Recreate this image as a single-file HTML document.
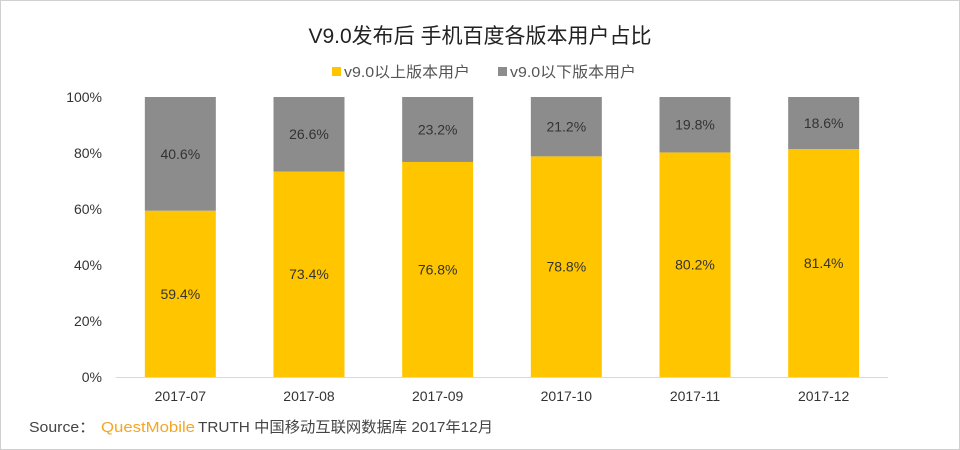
<!DOCTYPE html>
<html><head><meta charset="utf-8"><style>
body{margin:0;background:#fff;}
#wrap{position:relative;width:958px;height:448px;border:1px solid #d0d0d0;background:#fff;overflow:hidden;}
svg text{font-family:"Liberation Sans","Noto Sans CJK SC",sans-serif;}
</style></head><body>
<div id="wrap">
<svg id="chart" width="958" height="448">
<text x="479" y="42" text-anchor="middle" font-size="21" fill="#222">V9.0发布后 手机百度各版本用户占比</text>
<g>
<rect x="331" y="66" width="9" height="9" fill="#FFC600"/>
<text x="343" y="76" font-size="15" fill="#555" textLength="126" lengthAdjust="spacingAndGlyphs">v9.0以上版本用户</text>
<rect x="497" y="66" width="9" height="9" fill="#8C8C8C"/>
<text x="509" y="76" font-size="15" fill="#555" textLength="126" lengthAdjust="spacingAndGlyphs">v9.0以下版本用户</text>
</g>
<g id="axes"></g>
<g id="bars"></g>
<g>
<text x="28" y="431" font-size="15" fill="#444" textLength="66" lengthAdjust="spacingAndGlyphs">Source：</text>
<text x="100" y="431" font-size="15" fill="#F5A623" textLength="94" lengthAdjust="spacingAndGlyphs">QuestMobile</text>
<text x="197" y="431" font-size="15" fill="#444" textLength="295" lengthAdjust="spacingAndGlyphs">TRUTH 中国移动互联网数据库 2017年12月</text>
</g>
</svg>
</div>
<script>
const categories=["2017-07","2017-08","2017-09","2017-10","2017-11","2017-12"];
const above=[59.4,73.4,76.8,78.8,80.2,81.4];
const below=[40.6,26.6,23.2,21.2,19.8,18.6];
const yTicks=[0,20,40,60,80,100];
const NS="http://www.w3.org/2000/svg";
const x0=115,x1=887,yTop=96,yBot=376;
const bw=(x1-x0)/categories.length, barW=71;
const y=v=>yBot-(v/100)*(yBot-yTop);
const xc=i=>x0+bw*(i+0.5);
function mk(tag,attrs,parent,txt){const e=document.createElementNS(NS,tag);for(const k in attrs)e.setAttribute(k,attrs[k]);if(txt!==undefined)e.textContent=txt;parent.appendChild(e);return e;}
const axes=document.getElementById('axes'),bars=document.getElementById('bars');
yTicks.forEach(t=>{
 const e=mk('text',{x:101,y:y(t)+5,'text-anchor':'end','font-size':14,fill:'#333'},axes,t+'%');
 
 
});
const ax=mk('line',{x1:x0,x2:x1,y1:yBot+0.5,y2:yBot+0.5,stroke:'#d9d9d9','stroke-width':1},axes);


categories.forEach((c,i)=>{
 const cx=xc(i);
 const l=mk('text',{x:cx,y:400,'text-anchor':'middle','font-size':14,fill:'#333'},axes,c);
 
 
 const a=mk('rect',{x:cx-barW/2,y:y(above[i]),width:barW,height:yBot-y(above[i]),fill:'#FFC600'},bars);
 
 
 const b=mk('rect',{x:cx-barW/2,y:y(above[i]+below[i]),width:barW,height:y(above[i])-y(above[i]+below[i]),fill:'#8C8C8C'},bars);
 
 
 const ta=mk('text',{x:cx,y:(y(above[i])+yBot)/2+5,'text-anchor':'middle','font-size':14,fill:'#333'},bars,above[i].toFixed(1)+'%');
 
 
 const tb=mk('text',{x:cx,y:(y(above[i]+below[i])+y(above[i]))/2+5,'text-anchor':'middle','font-size':14,fill:'#333'},bars,below[i].toFixed(1)+'%');
 
 
});
</script>
</body></html>
